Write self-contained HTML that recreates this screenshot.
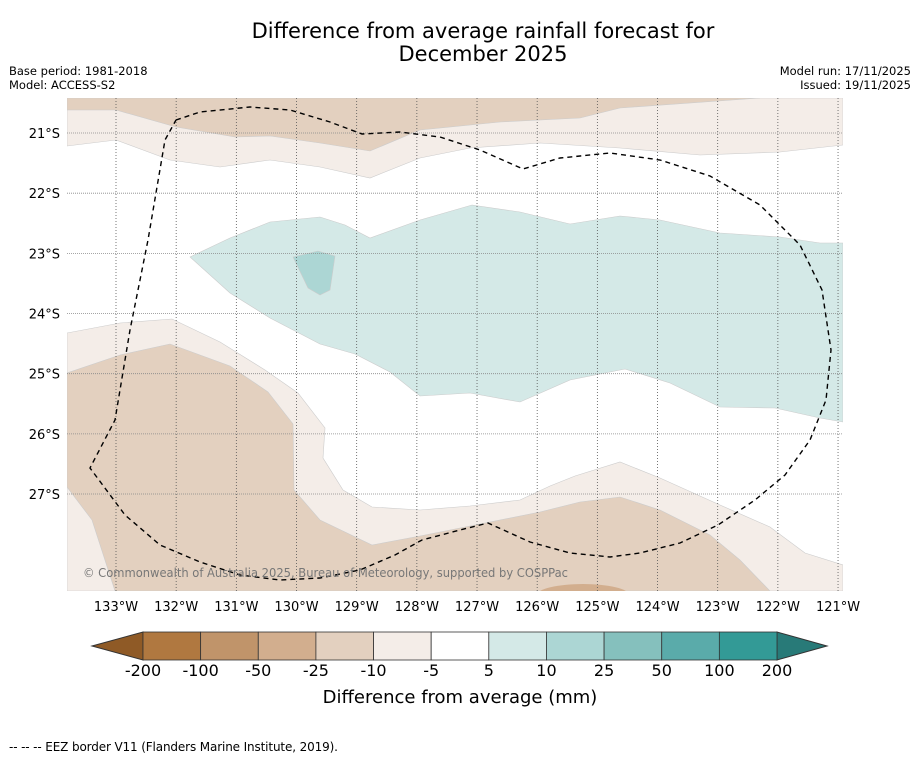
<!DOCTYPE html>
<html><head><meta charset="utf-8"><style>
body{margin:0;background:#fff;width:919px;height:758px;overflow:hidden;font-family:"DejaVu Sans","Liberation Sans",sans-serif}
</style></head><body>
<svg id="s" width="919" height="758" xmlns="http://www.w3.org/2000/svg">
<text x="483" y="38" font-size="21" text-anchor="middle">Difference from average rainfall forecast for</text>
<text x="483" y="61" font-size="21" text-anchor="middle">December 2025</text>
<text x="9" y="75" font-size="11.5">Base period: 1981-2018</text>
<text x="9" y="89" font-size="11.5">Model: ACCESS-S2</text>
<text x="911" y="75" font-size="11.5" text-anchor="end">Model run: 17/11/2025</text>
<text x="911" y="89" font-size="11.5" text-anchor="end">Issued: 19/11/2025</text>
<defs><clipPath id="mc"><rect x="67" y="98" width="776" height="493"/></clipPath></defs>
<g id="map" clip-path="url(#mc)"></g>
<g id="grid"></g>
<g id="ticks"></g>
<text x="83" y="577" font-size="12" fill="#777" textLength="485" lengthAdjust="spacingAndGlyphs">© Commonwealth of Australia 2025, Bureau of Meteorology, supported by COSPPac</text>
<g id="cbar"></g>
<text x="460" y="703" font-size="18" text-anchor="middle">Difference from average (mm)</text>
<text x="9" y="751" font-size="12" textLength="329" lengthAdjust="spacing">--  --  -- EEZ border V11 (Flanders Marine Institute, 2019).</text>
</svg>
<script>
const lonTicks=[133,132,131,130,129,128,127,126,125,124,123,122,121];
const latTicks=[21,22,23,24,25,26,27];
const cbLevels=[-200,-100,-50,-25,-10,-5,5,10,25,50,100,200];
const cbColors=["#b07840","#c0946a","#d2ae8e","#e3d0bf","#f4ede8","#ffffff","#d4e9e7","#acd6d4","#85c0bd","#5aabaa","#339a96"];
const lightTop=[[67,98],[843,98],[843,145],[780,152],[700,155],[620,148],[540,143],[470,148],[420,158],[370,178],[320,167],[270,160],[220,167],[170,160],[116,140],[67,146]];
const tanTop=[[67,98],[760,98],[620,108],[580,118],[500,122],[420,130],[370,151],[320,143],[270,136],[235,137],[176,127],[116,110],[67,110]];
const teal1=[[190,257],[230,238],[270,222],[320,217],[345,225],[370,238],[420,220],[472,205],[520,212],[570,224],[620,216],[660,220],[720,233],[780,237],[820,243],[843,243],[843,422],[820,418],[775,408],[720,407],[670,383],[625,369],[570,380],[520,402],[470,393],[420,396],[390,372],[355,354],[320,344],[270,318],[230,293]];
const teal2=[[293,257],[318,251],[335,256],[330,290],[320,295],[308,288]];
const lightBot=[[67,333],[120,323],[172,319],[220,342],[265,370],[298,393],[325,428],[323,458],[343,490],[372,507],[420,510],[470,506],[520,500],[550,486],[575,476],[620,462],[660,478],[720,505],[770,527],[805,553],[843,565],[843,591],[67,591]];
const tanBot=[[67,373],[120,355],[170,344],[230,366],[268,392],[293,424],[294,490],[320,520],[372,545],[420,536],[470,526],[540,512],[580,502],[620,497],[660,510],[710,535],[740,560],[770,591],[115,591],[92,520],[67,487]];
const eez=[[176,120],[200,112],[250,107],[290,110],[330,122],[362,134],[400,132],[440,137],[480,150],[523,169],[560,158],[610,153],[660,160],[710,176],[760,205],[800,245],[822,290],[831,350],[826,400],[810,440],[785,475],[755,500],[718,525],[680,543],[640,553],[610,557],[570,553],[530,542],[488,523],[460,530],[422,540],[395,555],[360,570],[320,578],[280,580],[240,575],[200,562],[160,545],[125,515],[90,468],[115,420],[130,330],[148,240],[165,140],[176,120]];
const NS="http://www.w3.org/2000/svg";
const xLon=l=>116+(133-l)*60.17, yLat=l=>133+(l-21)*60.17;
function mk(t,a,p){const e=document.createElementNS(NS,t);for(const k in a)e.setAttribute(k,a[k]);p.appendChild(e);return e;}
const map=document.getElementById('map');
function poly(pts,fill,name){const e=mk('polygon',{points:pts.map(p=>p.join(',')).join(' '),fill:fill,stroke:'#ccc','stroke-width':0.6},map);

}
poly(lightTop,'#f4ede8','contour-light-north');
poly(tanTop,'#e3d0bf','contour-tan-north');
poly(teal1,'#d4e9e7','contour-teal-5-10');
poly(teal2,'#acd6d4','contour-teal-10-25');
poly(lightBot,'#f4ede8','contour-light-south');
poly(tanBot,'#e3d0bf','contour-tan-south');
const sp=mk('ellipse',{cx:583,cy:595,rx:46,ry:11,fill:'#d2ae8e'},map);


const g=document.getElementById('grid'),tk=document.getElementById('ticks');
lonTicks.forEach(l=>{const x=xLon(l);
const ln=mk('line',{x1:x,x2:x,y1:98,y2:591,stroke:'#555','stroke-width':0.8,'stroke-dasharray':'1,2'},g);


const t=mk('text',{x:x,y:611,'font-size':13,'text-anchor':'middle'},tk);t.textContent=l+'°W';

});
latTicks.forEach(l=>{const y=yLat(l);
const ln=mk('line',{x1:67,x2:843,y1:y,y2:y,stroke:'#888','stroke-width':0.8,'stroke-dasharray':'1,1'},g);


const t=mk('text',{x:60,y:y+5,'font-size':13,'text-anchor':'end'},tk);t.textContent=l+'°S';

});
const ez=mk('polyline',{points:eez.map(p=>p.join(',')).join(' '),fill:'none',stroke:'#000','stroke-width':1.4,'stroke-dasharray':'5,4'},g);


const cb=document.getElementById('cbar');const x0=143,x1=777,cy0=632,cy1=660,w=(x1-x0)/cbColors.length;
const lt=mk('polygon',{points:`92,646 ${x0},${cy0} ${x0},${cy1}`,fill:'#8f5a26',stroke:'#333','stroke-width':1},cb);


const rt=mk('polygon',{points:`827,646 ${x1},${cy0} ${x1},${cy1}`,fill:'#287a78',stroke:'#333','stroke-width':1},cb);


cbColors.forEach((c,i)=>{const r=mk('rect',{x:x0+i*w,y:cy0,width:w,height:cy1-cy0,fill:c,stroke:'#333','stroke-width':0.8},cb);

});
cbLevels.forEach((v,i)=>{const t=mk('text',{x:x0+i*w,y:676,'font-size':16,'text-anchor':'middle'},cb);t.textContent=v;

});
</script>
</body></html>
